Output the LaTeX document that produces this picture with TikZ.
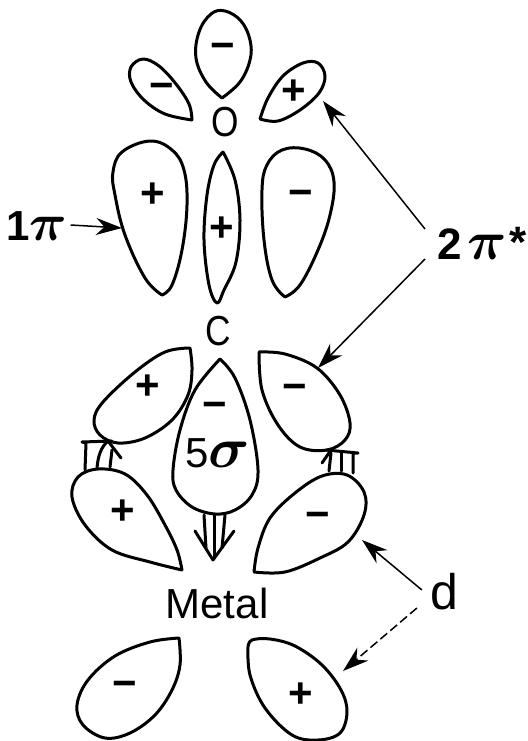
\documentclass[tikz,border=0pt]{standalone}
\usepackage{fontspec}
\usepackage{graphicx}
\setmainfont{Liberation Sans}
\usetikzlibrary{arrows.meta}
\newcommand{\bigsym}[2]{\scalebox{#1}{\boldmath$#2$}}
\newcommand{\narrowletter}[1]{\scalebox{.84}[1]{#1}}
\tikzset{
  x=1pt,y=-1pt,
  lobe/.style={line width=3pt,line join=round,line cap=round},
  sign/.style={font=\fontsize{42}{42}\bfseries\selectfont,inner sep=0pt},
  atom/.style={font=\fontsize{42}{42}\selectfont,inner sep=0pt},
  label/.style={font=\fontsize{42}{42}\selectfont,inner sep=0pt},
  leader/.style={line width=1.5pt,-{Stealth[length=26pt,width=17pt]}},
  brokenleader/.style={leader,dash pattern=on 9pt off 4pt},
  flow/.style={line width=3pt,line cap=round,line join=round}
}
\begin{document}
\begin{tikzpicture}
\useasboundingbox (0,0) rectangle (527,741);

% Orbital lobes on the oxygen end
\draw[lobe] plot[smooth,tension=.65] coordinates {(222,98) (206,82) (196,58) (199,32) (211,14) (225,11) (241,21) (250,40) (250,60) (240,82) (222,98)};
\draw[lobe] plot[smooth,tension=.6] coordinates {(192,120) (165,114) (144,100) (131,82) (131,67) (143,59) (159,66) (176,84) (189,104) (192,120)};
\draw[lobe] plot[smooth,tension=.6] coordinates {(260,119) (268,98) (283,76) (303,63) (318,63) (325,76) (319,93) (300,110) (278,121) (260,119)};
\node[atom] (oxygen) at (225,122) {\narrowletter{O}};

% Pi system between the atoms
\draw[lobe] plot[smooth,tension=.65] coordinates {(162,295) (145,278) (125,235) (115,195) (113,172) (122,152) (150,141) (172,150) (184,170) (187,205) (182,250) (172,285) (162,295)};
\draw[lobe] plot[smooth,tension=.6] coordinates {(223,152) (235,180) (240,220) (236,262) (224,290) (217,303) (209,285) (204,240) (207,195) (214,165) (223,152)};
\draw[lobe] plot[smooth,tension=.65] coordinates {(285,297) (272,280) (264,240) (262,190) (267,165) (282,150) (305,149) (325,160) (334,182) (330,215) (318,250) (300,285) (285,297)};
\node[atom] (carbon) at (218,331) {\narrowletter{C}};

% Lobes on the carbon side of the bond
\draw[lobe] plot[smooth,tension=.6] coordinates {(190,348) (165,352) (135,372) (103,402) (94,420) (100,435) (118,443) (145,438) (172,420) (188,395) (192,370) (190,348)};
\draw[lobe] plot[smooth,tension=.6] coordinates {(259,352) (285,354) (317,368) (340,395) (350,423) (345,440) (327,450) (300,447) (278,425) (262,390) (259,352)};
\draw[lobe] plot[smooth,tension=.6] coordinates {(220,359) (235,378) (250,420) (258,470) (252,495) (235,510) (215,514) (192,507) (176,490) (173,470) (180,430) (195,390) (220,359)};

% Metal d lobes
\draw[lobe] plot[smooth,tension=.6] coordinates {(182,570) (150,562) (112,550) (85,525) (72,497) (78,477) (98,469) (125,474) (147,495) (165,525) (177,550) (182,570)};
\draw[lobe] plot[smooth,tension=.6] coordinates {(254,572) (258,548) (270,518) (295,493) (322,476) (347,475) (364,492) (364,515) (348,542) (320,558) (285,572) (254,572)};
\draw[lobe] plot[smooth,tension=.6] coordinates {(179,638) (150,642) (115,656) (88,680) (77,705) (83,725) (105,738) (130,733) (155,715) (172,690) (180,665) (179,638)};
\draw[lobe] plot[smooth,tension=.6] coordinates {(248,647) (252,640) (270,639) (295,646) (322,665) (341,690) (347,712) (340,733) (318,740) (292,735) (265,708) (250,675) (248,647)};

% Back-donation and donation arrows
\draw[flow] (85,470) -- (86,443) -- (82,442) -- (112,441);
\draw[flow] (97,468) .. controls (98,456) and (101,447) .. (108,441);
\draw[flow] (110,467) -- (112,450);
\draw[flow] (108,441) -- (121,458);
\draw[flow] (353,473) -- (353,453) -- (358,453) -- (326,450);
\draw[flow] (341,471) -- (341,452);
\draw[flow] (329,471) -- (331,453);
\draw[flow] (331,450) -- (322,463);
\draw[flow] (204,515) -- (206,548);
\draw[flow] (214,515) -- (214,558);
\draw[flow] (225,515) -- (222,548);
\draw[flow] (195,531) -- (213,560) -- (234,531);

% Signs of the orbital phases
\node[sign] (s1) at (223,51) {−};
\node[sign] (s2) at (162,91) {−};
\node[sign] (s3) at (294,92) {+};
\node[sign] (s4) at (153,195) {+};
\node[sign] (s5) at (222,229) {+};
\node[sign] (s6) at (301,198) {−};
\node[sign] (s7) at (148,387) {+};
\node[sign] (s8) at (295,392) {−};
\node[sign] (s9) at (215,410) {−};
\node[sign] (s10) at (123,512) {+};
\node[sign] (s11) at (318,520) {−};
\node[sign] (s12) at (125,689) {−};
\node[sign] (s13) at (301,695) {+};

% Labels
\node[label] (fivesigma) at (218,453) {5\bigsym{2.3}{\sigma}};
\node[label] (metal) at (217,603) {Metal};
\node[label] (onepi) at (37,226) {\textbf{1}\bigsym{2.1}{\pi}};
\node[label,anchor=west] (twopi) at (437,243) {\fontsize{44}{44}\selectfont\textbf{2}\hspace{6pt}\bigsym{2.2}{\pi}\hspace{2pt}\raisebox{2pt}{\textbf{*}}};
\node[label,font=\fontsize{50}{50}\selectfont] (dlabel) at (444,592) {d};

% Leaders from the labels to the lobes
\coordinate (onepitip) at (122,228);
\coordinate (ringtip) at (323,101);
\coordinate (uppertip) at (318,368);
\coordinate (dtip) at (362,540);
\coordinate (lowertip) at (343,671);
\draw[leader] ([xshift=3pt,yshift=1pt]onepi.east) -- (onepitip);
\draw[leader] ([xshift=-12pt,yshift=14pt]twopi.west) -- (ringtip);
\draw[leader] ([xshift=-12pt,yshift=-16pt]twopi.west) -- (uppertip);
\draw[leader] ([xshift=-8pt,yshift=2pt]dlabel.west) -- (dtip);
\draw[brokenleader] ([xshift=-13pt,yshift=-16pt]dlabel.west) -- (lowertip);
\end{tikzpicture}
\end{document}
